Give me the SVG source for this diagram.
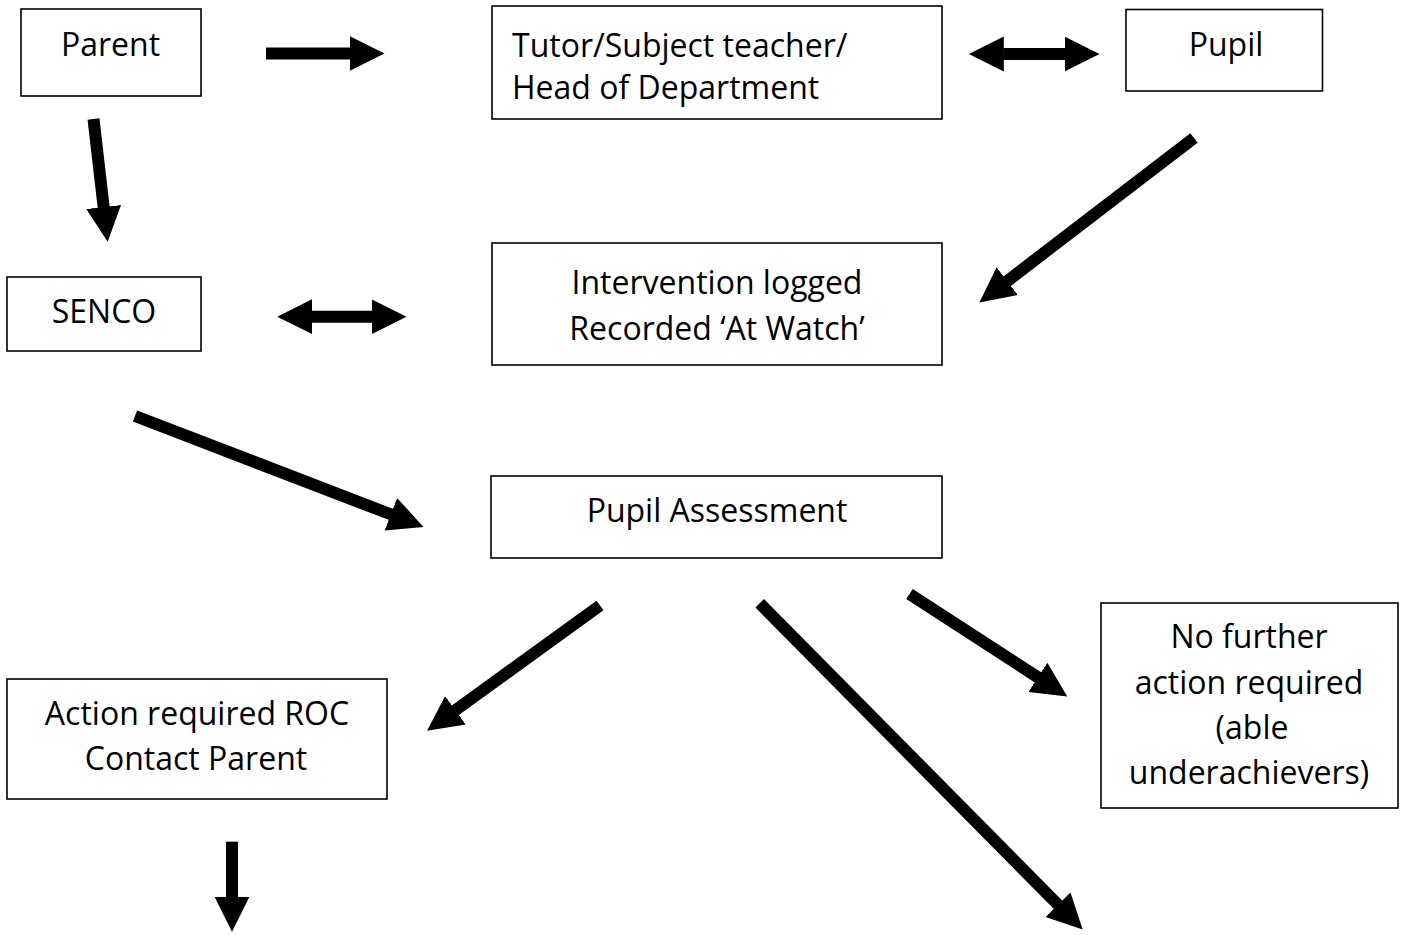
<svg xmlns="http://www.w3.org/2000/svg" width="1412" height="935" viewBox="0 0 1412 935">
<style>
.box{fill:#fff;stroke:#000;stroke-width:1.6}
.t{font-family:"Open Sans","Noto Sans","Liberation Sans",sans-serif;font-size:32px;fill:#000}
.c{text-anchor:middle}
.a{stroke:#000;stroke-width:12;fill:none;marker-end:url(#head)}
.d{marker-start:url(#headS)}
</style>
<defs>
<marker id="head" markerUnits="userSpaceOnUse" markerWidth="36" markerHeight="36" viewBox="0 0 36 36" refX="0.5" refY="18" orient="auto">
<path d="M0,0.5 L35,18 L0,35.5 Z" fill="#000"/>
</marker>
<marker id="headS" markerUnits="userSpaceOnUse" markerWidth="36" markerHeight="36" viewBox="0 0 36 36" refX="0.5" refY="18" orient="auto-start-reverse">
<path d="M0,0.5 L35,18 L0,35.5 Z" fill="#000"/>
</marker>
</defs>
<rect width="1412" height="935" fill="#fff"/>
<g id="connectors">
<line class="a" x1="266" y1="53.5" x2="350" y2="53.5"/>
<line class="a" x1="93.5" y1="119" x2="103.7" y2="207.5"/>
<line class="a d" x1="1003.3" y1="54" x2="1065" y2="54"/>
<line class="a" x1="1194" y1="138" x2="1006.8" y2="281.4"/>
<line class="a d" x1="311.7" y1="316.7" x2="372" y2="316.7"/>
<line class="a" x1="135" y1="416" x2="391.3" y2="514.5"/>
<line class="a" x1="600" y1="605.5" x2="455" y2="710.5"/>
<line class="a" x1="759.7" y1="603.3" x2="1058.4" y2="905.1"/>
<line class="a" x1="909.5" y1="594" x2="1038.3" y2="677.6"/>
<line class="a" x1="232" y1="841.7" x2="232" y2="897.3"/>
</g>
<g id="parent">
<rect class="box" x="21" y="9" width="180" height="87"/>
<text class="t c" x="110.5" y="56">Parent</text>
</g>
<g id="tutor">
<rect class="box" x="492" y="6" width="450" height="113"/>
<text class="t" x="512" y="57">Tutor/Subject teacher/</text>
<text class="t" x="512" y="99">Head of Department</text>
</g>
<g id="pupil">
<rect class="box" x="1126" y="9.5" width="196.5" height="81.5"/>
<text class="t c" x="1226" y="56">Pupil</text>
</g>
<g id="senco">
<rect class="box" x="7" y="277" width="194" height="74"/>
<text class="t c" x="104" y="323">SENCO</text>
</g>
<g id="intervention">
<rect class="box" x="492" y="243" width="450" height="122"/>
<text class="t c" x="717" y="294">Intervention logged</text>
<text class="t c" x="717" y="340">Recorded ‘At Watch’</text>
</g>
<g id="assessment">
<rect class="box" x="491" y="476" width="451" height="82"/>
<text class="t c" x="717" y="522">Pupil Assessment</text>
</g>
<g id="action">
<rect class="box" x="7" y="679" width="380" height="120"/>
<text class="t c" x="197" y="725">Action required ROC</text>
<text class="t c" x="196" y="770">Contact Parent</text>
</g>
<g id="nofurther">
<rect class="box" x="1101" y="603" width="297" height="205"/>
<text class="t c" x="1249" y="648">No further</text>
<text class="t c" x="1249" y="694">action required</text>
<text class="t c" x="1252" y="739">(able</text>
<text class="t c" x="1249" y="784">underachievers)</text>
</g>
</svg>
